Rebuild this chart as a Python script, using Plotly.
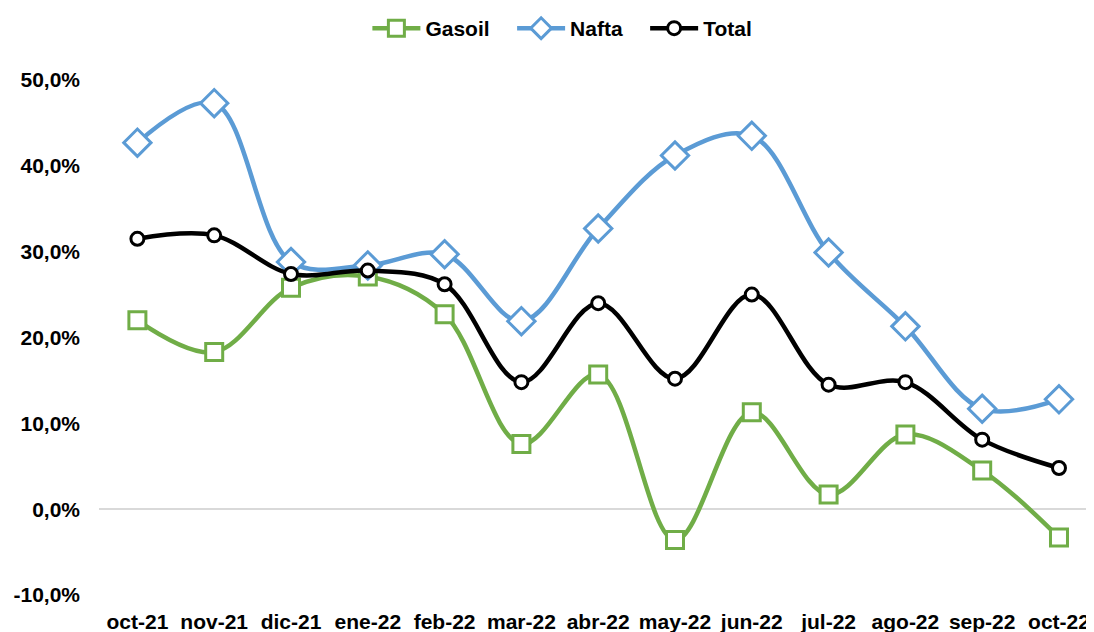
import plotly.graph_objects as go

months = ["oct-21", "nov-21", "dic-21", "ene-22", "feb-22", "mar-22", "abr-22",
          "may-22", "jun-22", "jul-22", "ago-22", "sep-22", "oct-22"]
gasoil = [22.0, 18.3, 25.8, 27.1, 22.7, 7.6, 15.7, -3.6, 11.3, 1.7, 8.7, 4.5, -3.3]
nafta = [42.7, 47.3, 28.8, 28.4, 29.7, 21.9, 32.7, 41.2, 43.5, 29.9, 21.3, 11.7, 12.8]
total = [31.5, 31.9, 27.4, 27.8, 26.2, 14.8, 24.0, 15.2, 25.0, 14.5, 14.8, 8.1, 4.8]
ytick_vals = [-10, 0, 10, 20, 30, 40, 50]

FONT = "Liberation Sans, Arial, sans-serif"
FS = 21
SP = "&nbsp;" * 3

def frac(vals):
    return [v / 100 for v in vals]

xs = list(range(len(months)))
fig = go.Figure()
fig.add_trace(go.Scatter(
    x=xs, y=frac(gasoil), name="<b>Gasoil</b>" + SP, mode="lines+markers",
    line=dict(color="#70AD47", width=4.5, shape="spline", smoothing=1),
    marker=dict(symbol="square", size=17, color="white",
                line=dict(color="#70AD47", width=3)),
))
fig.add_trace(go.Scatter(
    x=xs, y=frac(nafta), name="<b>Nafta</b>" + SP, mode="lines+markers",
    line=dict(color="#5B9BD5", width=4.5, shape="spline", smoothing=1),
    marker=dict(symbol="diamond", size=21, color="white",
                line=dict(color="#5B9BD5", width=3)),
))
fig.add_trace(go.Scatter(
    x=xs, y=frac(total), name="<b>Total</b>", mode="lines+markers",
    line=dict(color="black", width=4.5, shape="spline", smoothing=1),
    marker=dict(symbol="circle", size=13, color="white",
                line=dict(color="black", width=3)),
))

fig.update_layout(
    width=1094, height=632,
    margin=dict(l=91, r=0, t=71, b=45),
    paper_bgcolor="white", plot_bgcolor="white",
    font=dict(family=FONT, size=FS, color="black"),
    showlegend=True,
    legend=dict(orientation="h", x=0.462, xanchor="center", y=1.10, yanchor="middle",
                font=dict(family=FONT, size=FS, color="black"),
                itemwidth=48, tracegroupgap=0),
    xaxis=dict(range=[-0.5, 12.56], showgrid=False, zeroline=False, showline=False,
               ticks="", automargin=False,
               tickfont=dict(family=FONT, size=FS, color="black"),
               ticklabelstandoff=12,
               tickvals=xs, ticktext=[f"<b>{m}</b>" for m in months]),
    yaxis=dict(range=[-0.1, 0.5], showgrid=False, zeroline=True, zerolinecolor="#d9d9d9",
               zerolinewidth=1.5, showline=False, ticks="", automargin=False,
               tickvals=frac(ytick_vals),
               ticktext=[f"<b>{v:.1f}%</b>".replace(".", ",") for v in ytick_vals],
               tickfont=dict(family=FONT, size=FS, color="black"),
               ticklabelstandoff=18),
)

fig.write_html("out.html")
